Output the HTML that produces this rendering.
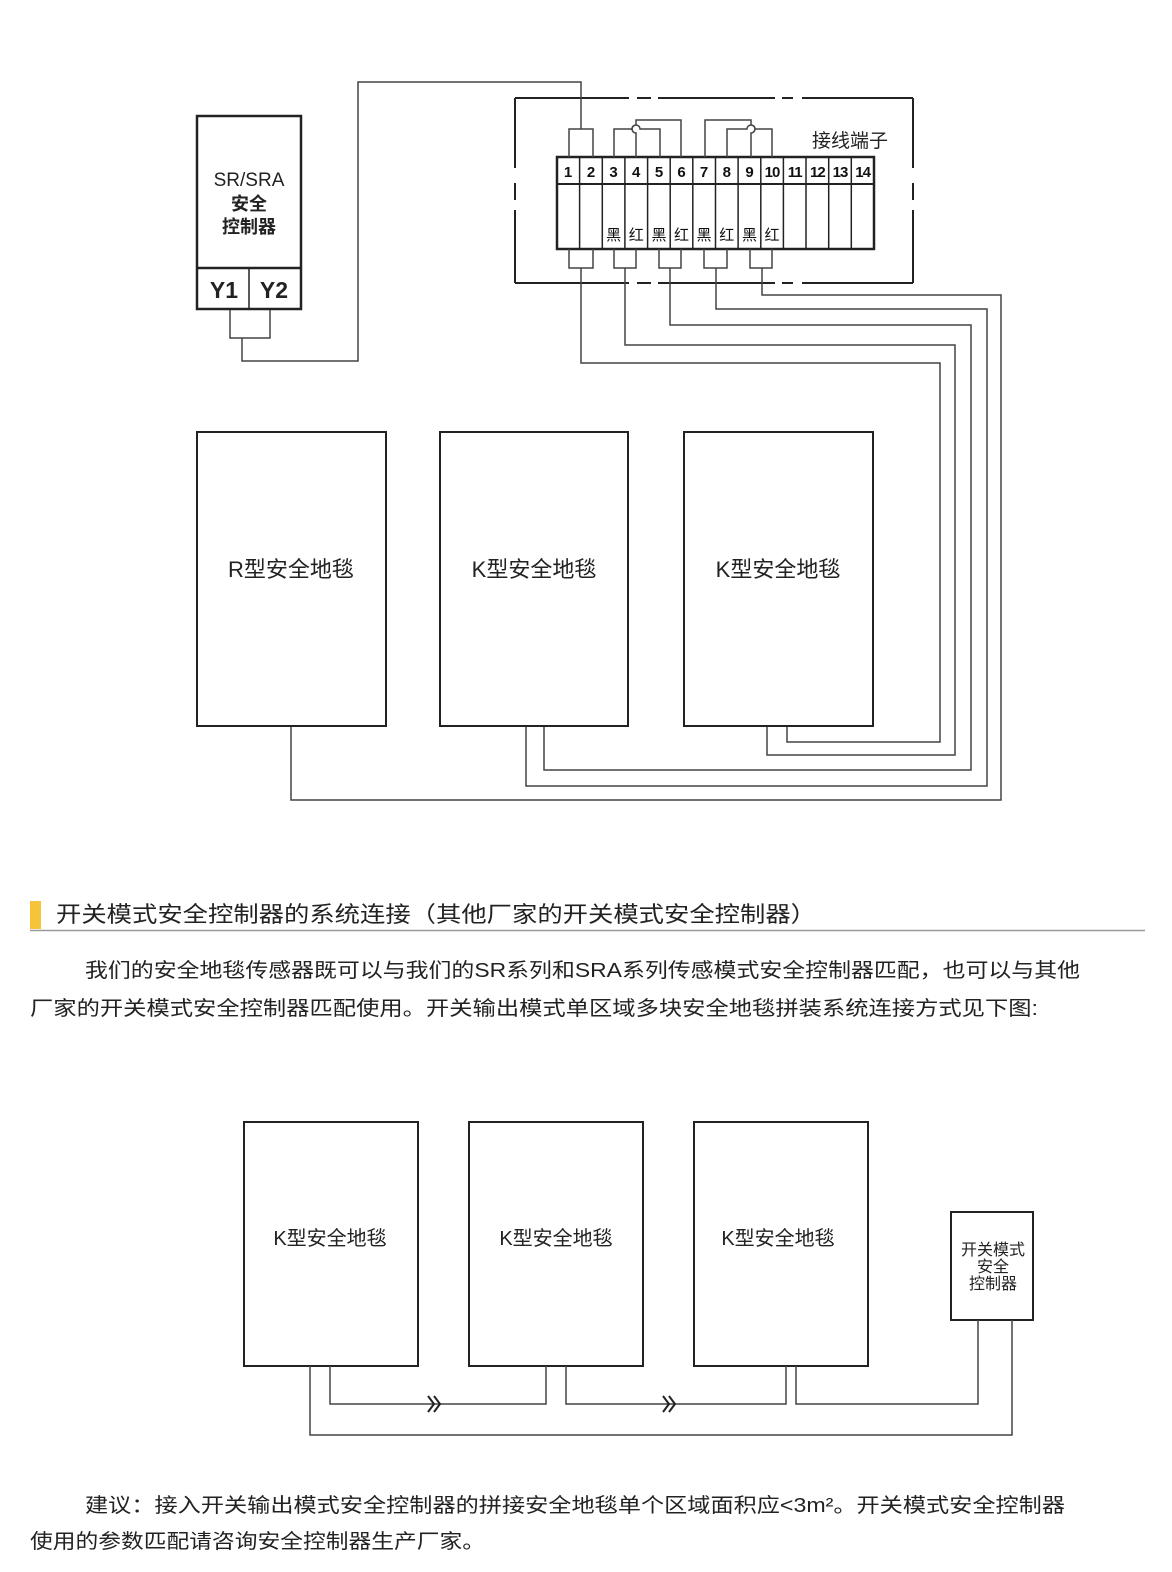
<!DOCTYPE html>
<html><head><meta charset="utf-8"><style>
html,body{margin:0;padding:0;background:#fff;}
svg{display:block;font-family:"Liberation Sans","Noto Sans CJK SC",sans-serif;}
</style></head><body>
<svg width="1172" height="1572" viewBox="0 0 1172 1572" xmlns="http://www.w3.org/2000/svg">
<g fill="none" stroke="#222" stroke-width="2">
<path d="M515 98H629 M637 98H651 M658 98H775 M782 98H793 M802 98H913"/>
<path d="M515 283H629 M637 283H651 M658 283H775 M782 283H793 M802 283H913"/>
<path d="M515 98V168 M515 183V200 M515 210V283"/>
<path d="M913 98V168 M913 183V200 M913 210V283"/>
<rect x="557" y="157" width="317" height="92" stroke-width="2.5"/>
<line x1="557" y1="184" x2="874" y2="184"/>
</g>
<g stroke="#222" stroke-width="1.5">
<line x1="579.6" y1="157" x2="579.6" y2="249"/><line x1="602.3" y1="157" x2="602.3" y2="249"/>
<line x1="624.9" y1="157" x2="624.9" y2="249"/><line x1="647.6" y1="157" x2="647.6" y2="249"/>
<line x1="670.2" y1="157" x2="670.2" y2="249"/><line x1="692.8" y1="157" x2="692.8" y2="249"/>
<line x1="715.5" y1="157" x2="715.5" y2="249"/><line x1="738.1" y1="157" x2="738.1" y2="249"/>
<line x1="760.8" y1="157" x2="760.8" y2="249"/><line x1="783.4" y1="157" x2="783.4" y2="249"/>
<line x1="806" y1="157" x2="806" y2="249"/><line x1="828.7" y1="157" x2="828.7" y2="249"/>
<line x1="851.3" y1="157" x2="851.3" y2="249"/>
</g>
<g font-weight="bold" font-size="15" fill="#111" text-anchor="middle">
<text x="568" y="177">1</text><text x="591" y="177">2</text><text x="613.6" y="177">3</text><text x="636.2" y="177">4</text><text x="659" y="177">5</text><text x="681.5" y="177">6</text><text x="704" y="177">7</text><text x="726.8" y="177">8</text><text x="749.5" y="177">9</text><text x="772" y="177" letter-spacing="-1">10</text><text x="794.7" y="177" letter-spacing="-1">11</text><text x="817.4" y="177" letter-spacing="-1">12</text><text x="840" y="177" letter-spacing="-1">13</text><text x="862.6" y="177" letter-spacing="-1">14</text>
</g>
<g font-size="15" fill="#111" text-anchor="middle">
<text x="613.6" y="240">黑</text><text x="636.2" y="240">红</text><text x="659" y="240">黑</text><text x="681.5" y="240">红</text><text x="704" y="240">黑</text><text x="726.8" y="240">红</text><text x="749.5" y="240">黑</text><text x="772" y="240">红</text>
</g>
<text x="850" y="147" font-size="19" fill="#222" text-anchor="middle">接线端子</text>
<g fill="none" stroke="#444" stroke-width="1.5">
<path d="M569 157V129H593V157"/>
<path d="M614 157V129H632 A4 4 0 0 1 640 129 H660V157"/>
<path d="M636 157V133 A4 4 0 0 1 636 125 V120H681V157"/>
<path d="M705 157V120H751V125 A4 4 0 0 1 751 133 V157"/>
<path d="M727 157V129H747 A4 4 0 0 1 755 129 H772V157"/>
<path d="M569 249V268H593V249"/>
<path d="M614 249V268H636V249"/>
<path d="M659 249V268H681V249"/>
<path d="M704 249V268H727V249"/>
<path d="M750 249V268H772V249"/>
<path d="M581 129V82H358V361H242V338"/>
<path d="M230 309V338H270V309"/>
<path d="M762 268V295H1001V800H291V726"/>
<path d="M716 268V309H987V786H526V726"/>
<path d="M670 268V325H971V770H544V726"/>
<path d="M625 268V345H955V755H767V726"/>
<path d="M581 268V363H940V742H787V726"/>
</g>
<g fill="none" stroke="#222" stroke-width="2.5">
<rect x="197" y="116" width="104" height="193"/>
<line x1="197" y1="268" x2="301" y2="268"/>
<line x1="249" y1="268" x2="249" y2="309" stroke-width="1.5"/>
<rect x="197" y="432" width="189" height="294" stroke-width="2"/>
<rect x="440" y="432" width="188" height="294" stroke-width="2"/>
<rect x="684" y="432" width="189" height="294" stroke-width="2"/>
</g>
<g fill="#222" text-anchor="middle">
<text x="249" y="186" font-size="19">SR/SRA</text>
<text x="249" y="210" font-size="18" font-weight="bold">安全</text>
<text x="249" y="233" font-size="18" font-weight="bold">控制器</text>
<text x="224" y="298" font-size="23" font-weight="bold">Y1</text>
<text x="274" y="298" font-size="23" font-weight="bold">Y2</text>
<text x="291" y="577" font-size="22">R型安全地毯</text>
<text x="534" y="577" font-size="22">K型安全地毯</text>
<text x="778" y="577" font-size="22">K型安全地毯</text>
</g>
<rect x="30" y="901" width="11" height="28" fill="#f7c33a"/>
<line x1="30" y1="930.5" x2="1145" y2="930.5" stroke="#999" stroke-width="1.5"/>
<text x="56" y="922" font-size="22" fill="#222" textLength="760" lengthAdjust="spacingAndGlyphs">开关模式安全控制器的系统连接（其他厂家的开关模式安全控制器）</text>
<text x="85" y="977" font-size="20" fill="#222" textLength="995" lengthAdjust="spacingAndGlyphs">我们的安全地毯传感器既可以与我们的SR系列和SRA系列传感模式安全控制器匹配，也可以与其他</text>
<text x="30" y="1015" font-size="20" fill="#222" textLength="1008" lengthAdjust="spacingAndGlyphs">厂家的开关模式安全控制器匹配使用。开关输出模式单区域多块安全地毯拼装系统连接方式见下图:</text>
<g fill="none" stroke="#222" stroke-width="2">
<rect x="244" y="1122" width="174" height="244"/>
<rect x="469" y="1122" width="174" height="244"/>
<rect x="694" y="1122" width="174" height="244"/>
<rect x="951" y="1212" width="82" height="108"/>
</g>
<g fill="none" stroke="#444" stroke-width="1.5">
<path d="M330 1366V1404H546V1366"/>
<path d="M566 1366V1404H786V1366"/>
<path d="M796 1366V1404H978V1320"/>
<path d="M310 1366V1435H1012V1320"/>
</g>
<g fill="none" stroke="#222" stroke-width="2">
<path d="M428 1396L434 1404L428 1412 M434 1396L440 1404L434 1412"/>
<path d="M663 1396L669 1404L663 1412 M669 1396L675 1404L669 1412"/>
</g>
<g fill="#222" text-anchor="middle" font-size="20">
<text x="330" y="1245">K型安全地毯</text>
<text x="556" y="1245">K型安全地毯</text>
<text x="778" y="1245">K型安全地毯</text>
</g>
<g fill="#222" text-anchor="middle" font-size="16">
<text x="993" y="1255">开关模式</text>
<text x="993" y="1272">安全</text>
<text x="993" y="1289">控制器</text>
</g>
<text x="85" y="1512" font-size="20" fill="#222" textLength="980" lengthAdjust="spacingAndGlyphs">建议：接入开关输出模式安全控制器的拼接安全地毯单个区域面积应&lt;3m²。开关模式安全控制器</text>
<text x="30" y="1548" font-size="20" fill="#222" textLength="455" lengthAdjust="spacingAndGlyphs">使用的参数匹配请咨询安全控制器生产厂家。</text>
</svg>
</body></html>
